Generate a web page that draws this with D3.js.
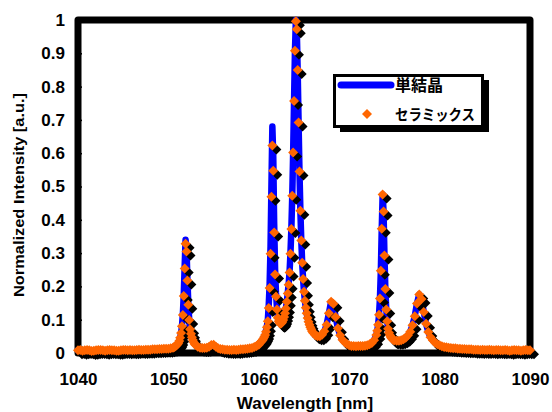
<!DOCTYPE html>
<html>
<head>
<meta charset="utf-8">
<script src="https://cdn.jsdelivr.net/npm/d3@7"></script>
<style>
  body { margin: 0; background: #fff; }
  text { font-family: "Liberation Sans", Arial, sans-serif; font-weight: bold; fill: #000; }
  .jp { font-family: "Noto Sans CJK JP", sans-serif; font-weight: bold; }
</style>
</head>
<body>
<div id="chart"></div>
<script>
// wavelength grid [nm], shared by both spectra
var wavelength = [
  1040,1040.25,1040.5,1040.75,1041,1041.25,1041.5,1041.75,1042,1042.25,1042.5,1042.75,1043,1043.25,1043.5,1043.75,1044,1044.25,1044.5,1044.75,
  1045,1045.25,1045.5,1045.75,1046,1046.25,1046.5,1046.75,1047,1047.25,1047.5,1047.75,1048,1048.25,1048.5,1048.75,1049,1049.25,1049.5,1049.75,1050,1050.25,1050.5,
  1050.6,1050.7,1050.8,1050.9,1051,1051.1,1051.2,1051.3,1051.4,1051.5,
  1051.6,1051.7,1051.8,1051.9,1052,1052.1,1052.2,1052.3,
  1052.4,1052.5,1052.6,1052.7,1052.8,1052.9,1053,
  1053.25,1053.5,1053.75,1054,1054.25,1054.5,1054.75,1055,1055.25,1055.5,1055.75,1056,1056.25,1056.5,1056.75,1057,1057.25,1057.5,1057.75,1058,1058.25,1058.5,1058.75,1059,1059.25,1059.5,1059.75,1060,
  1060.1,1060.2,1060.3,1060.4,1060.5,1060.6,1060.7,1060.8,1060.9,1061,1061.1,
  1061.2,1061.3,1061.4,1061.5,1061.6,1061.7,1061.8,
  1061.9,1062,1062.1,1062.2,1062.3,1062.4,1062.5,1062.6,1062.7,1062.8,1062.9,1063,1063.1,1063.2,1063.3,
  1063.4,1063.5,1063.6,1063.7,1063.8,1063.9,1064,1064.1,1064.2,1064.3,1064.4,1064.5,1064.6,1064.7,1064.8,
  1064.9,1065,1065.1,1065.2,1065.3,1065.4,1065.5,1065.6,1065.7,1065.8,1065.9,1066,
  1066.25,1066.5,1066.75,1067,1067.25,1067.5,1067.75,1068,1068.25,1068.5,1068.75,1069,1069.25,1069.5,1069.75,1070,1070.25,1070.5,1070.75,1071,1071.25,1071.5,1071.75,1072,1072.25,1072.5,1072.75,1073,
  1073.1,1073.2,1073.3,1073.4,1073.5,1073.6,1073.7,1073.8,1073.9,1074,1074.1,1074.2,1074.3,1074.4,1074.5,1074.6,1074.7,1074.8,1074.9,1075,
  1075.25,1075.5,1075.75,1076,1076.25,1076.5,1076.75,1077,1077.25,1077.5,1077.75,1078,1078.25,1078.5,1078.75,1079,1079.25,1079.5,1079.75,1080,1080.25,1080.5,1080.75,1081,
  1081.25,1081.5,1081.75,1082,1082.25,1082.5,1082.75,1083,1083.25,1083.5,1083.75,1084,1084.25,1084.5,1084.75,1085,1085.25,1085.5,1085.75,1086,
  1086.25,1086.5,1086.75,1087,1087.25,1087.5,1087.75,1088,1088.25,1088.5,1088.75,1089,1089.25,1089.5,1089.75,1090
];

// 単結晶 (line)
var singleCrystal = [
  .008,.009,.007,.008,.009,.008,.006,.007,.008,.009,.009,.008,.007,.008,.009,.008,.008,.007,.007,.008,
  .009,.009,.008,.009,.008,.008,.009,.010,.009,.009,.010,.010,.010,.011,.011,.011,.012,.012,.013,.013,.013,.014,.016,
  .017,.019,.021,.023,.026,.030,.036,.046,.060,.080,
  .117,.176,.262,.340,.314,.224,.149,.101,
  .071,.058,.047,.039,.032,.027,.024,
  .019,.016,.015,.015,.016,.019,.024,.025,.019,.014,.012,.011,.010,.010,.009,.009,.010,.009,.010,.011,.011,.012,.013,.014,.015,.018,.021,.025,
  .031,.033,.036,.040,.045,.050,.057,.068,.082,.101,.144,
  .209,.321,.506,.680,.590,.390,.252,
  .181,.139,.111,.099,.093,.090,.091,.095,.100,.109,.120,.135,.155,.180,.206,
  .242,.298,.372,.472,.602,.757,.908,1.0,.972,.850,.692,.545,.427,.338,.271,
  .222,.184,.157,.136,.119,.105,.094,.085,.077,.071,.065,.061,
  .053,.050,.050,.055,.065,.085,.119,.154,.148,.108,.074,.053,.040,.032,.027,.023,.021,.021,.020,.021,.021,.021,.022,.023,.026,.030,.038,.054,
  .067,.085,.115,.164,.247,.373,.476,.425,.293,.192,.131,.095,.073,.061,.053,.048,.044,.041,.039,.038,
  .037,.037,.038,.041,.046,.053,.064,.083,.110,.149,.176,.162,.123,.088,.063,.047,.038,.031,.026,.023,.020,.018,.017,.016,
  .015,.014,.014,.013,.013,.012,.012,.011,.011,.011,.010,.010,.010,.009,.010,.009,.009,.010,.009,.008,
  .009,.009,.008,.008,.009,.008,.007,.008,.009,.008,.008,.007,.008,.009,.008,.008
];

// セラミックス (markers)
var ceramic = [
  .008,.009,.007,.008,.009,.008,.006,.007,.008,.009,.009,.008,.007,.008,.009,.008,.008,.007,.007,.008,
  .009,.009,.008,.009,.008,.008,.009,.010,.009,.009,.010,.010,.010,.011,.011,.011,.012,.012,.013,.013,.013,.014,.016,
  .017,.019,.021,.023,.026,.030,.036,.046,.060,.080,
  .114,.171,.254,.328,.305,.218,.145,.099,
  .071,.058,.047,.039,.032,.027,.024,
  .019,.016,.015,.015,.016,.019,.024,.025,.019,.014,.012,.011,.010,.010,.009,.009,.010,.009,.010,.011,.011,.012,.013,.014,.015,.018,.021,.025,
  .030,.032,.035,.038,.043,.048,.054,.064,.077,.095,.135,
  .195,.298,.469,.623,.547,.362,.236,
  .170,.131,.106,.095,.090,.088,.089,.093,.099,.108,.119,.134,.154,.179,.205,
  .242,.298,.372,.472,.602,.757,.908,.996,.972,.850,.692,.545,.427,.338,.271,
  .222,.184,.157,.136,.119,.105,.094,.085,.077,.071,.065,.061,
  .053,.050,.050,.055,.065,.085,.119,.154,.148,.108,.074,.053,.040,.032,.027,.023,.021,.021,.020,.021,.021,.021,.022,.023,.026,.030,.038,.054,
  .067,.085,.115,.164,.247,.373,.476,.425,.293,.192,.131,.095,.073,.061,.053,.048,.044,.041,.039,.038,
  .037,.037,.038,.041,.046,.053,.064,.083,.110,.149,.176,.162,.123,.088,.063,.047,.038,.031,.026,.023,.020,.018,.017,.016,
  .015,.014,.014,.013,.013,.012,.012,.011,.011,.011,.010,.010,.010,.009,.010,.009,.009,.010,.009,.008,
  .009,.009,.008,.008,.009,.008,.007,.008,.009,.008,.008,.007,.008,.009,.008,.008
];

var seriesNames = ["単結晶", "セラミックス"];
var xTicks = [1040, 1050, 1060, 1070, 1080, 1090];
var yTicks = [0, 0.1, 0.2, 0.3, 0.4, 0.5, 0.6, 0.7, 0.8, 0.9, 1];
var xTitle = "Wavelength [nm]";
var yTitle = "Normalized Intensity [a.u.]";

var width = 552, height = 412;
var blue = "#0000ff", orange = "#ff6600";

var svg = d3.select("#chart").append("svg")
    .attr("width", width)
    .attr("height", height);

var x = d3.scaleLinear().domain([1040, 1090]).range([78, 530]);
var y = d3.scaleLinear().domain([0, 1]).range([353, 20]);

// plot frame
svg.append("rect")
    .attr("x", x(1040)).attr("y", y(1))
    .attr("width", x(1090) - x(1040)).attr("height", y(0) - y(1))
    .attr("fill", "none").attr("stroke", "#000").attr("stroke-width", 7)
    .attr("stroke-linejoin", "round");

// axes, ticks pointing inward
var yAxis = svg.append("g")
    .attr("transform", "translate(" + x(1040) + ",0)")
    .call(d3.axisLeft(y).tickValues(yTicks).tickSize(-4).tickPadding(13).tickFormat(d3.format("~g")));
var xAxis = svg.append("g")
    .attr("transform", "translate(0," + y(0) + ")")
    .call(d3.axisBottom(x).tickValues(xTicks).tickSize(-4).tickPadding(20).tickFormat(d3.format("d")));
[xAxis, yAxis].forEach(function(g) {
  g.select(".domain").remove();
  g.selectAll(".tick line").attr("stroke", "#000").attr("stroke-width", 1.5);
  g.selectAll("text").attr("font-size", 17).attr("font-family", "Liberation Sans, Arial, sans-serif")
    .attr("font-weight", "bold").attr("fill", "#000");
});

svg.append("text")
    .attr("x", 305).attr("y", 409)
    .attr("text-anchor", "middle").attr("font-size", 17)
    .text(xTitle);
svg.append("text")
    .attr("transform", "translate(24,195) rotate(-90)")
    .attr("text-anchor", "middle").attr("font-size", 15.5)
    .attr("textLength", 204).attr("lengthAdjust", "spacingAndGlyphs")
    .text(yTitle);

var data = wavelength.map(function(w, i) {
  return { w: w, s: singleCrystal[i], c: ceramic[i] };
});

// single crystal line
var line = d3.line()
    .x(function(d) { return x(d.w); })
    .y(function(d) { return y(d.s); });
svg.append("path")
    .datum(data)
    .attr("d", line)
    .attr("fill", "none")
    .attr("stroke", blue)
    .attr("stroke-width", 6.5)
    .attr("stroke-linejoin", "round")
    .attr("stroke-linecap", "round");

// ceramic markers with drop shadow
function diamond(r) {
  return "M0," + (-r) + "L" + r + ",0L0," + r + "L" + (-r) + ",0Z";
}
var r = 5;
svg.append("g").selectAll("path")
    .data(data).enter().append("path")
    .attr("d", diamond(r))
    .attr("transform", function(d) { return "translate(" + (x(d.w) + 4) + "," + (y(d.c) + 4) + ")"; })
    .attr("fill", "#000");
svg.append("g").selectAll("path")
    .data(data).enter().append("path")
    .attr("d", diamond(r))
    .attr("transform", function(d) { return "translate(" + x(d.w) + "," + y(d.c) + ")"; })
    .attr("fill", orange);

// legend
var lg = svg.append("g");
lg.append("rect").attr("x", 340).attr("y", 80).attr("width", 149).attr("height", 52).attr("fill", "#000");
lg.append("rect").attr("x", 334.5).attr("y", 75.5).attr("width", 148).attr("height", 51)
    .attr("fill", "#fff").attr("stroke", "#000").attr("stroke-width", 3);
lg.append("line").attr("x1", 341).attr("x2", 391).attr("y1", 85).attr("y2", 85)
    .attr("stroke", blue).attr("stroke-width", 7).attr("stroke-linecap", "round");
lg.append("path").attr("d", diamond(r)).attr("transform", "translate(367,114)").attr("fill", orange);
lg.append("text").attr("class", "jp").attr("x", 395).attr("y", 91).attr("font-size", 16)
    .text(seriesNames[0]);
lg.append("text").attr("class", "jp").attr("x", 395).attr("y", 120).attr("font-size", 15)
    .attr("textLength", 80).attr("lengthAdjust", "spacingAndGlyphs")
    .text(seriesNames[1]);
</script>
</body>
</html>
